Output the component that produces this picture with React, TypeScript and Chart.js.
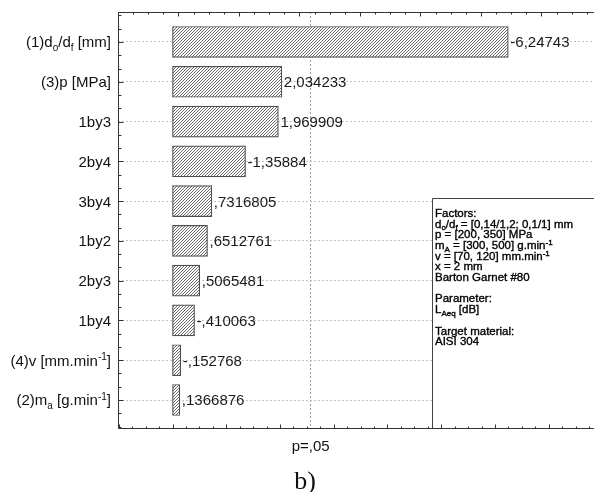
import React, { useEffect, useRef } from 'react';
import { Chart, registerables } from 'chart.js';

Chart.register(...registerables);

// ---- data ----
const categories = [
  '(1)d_{o}/d_{f} [mm]',
  '(3)p [MPa]',
  '1by3',
  '2by4',
  '3by4',
  '1by2',
  '2by3',
  '1by4',
  '(4)v [mm.min^{-1}]',
  '(2)m_{a} [g.min^{-1}]',
];
const effects = [
  -6.24743, 2.034233, 1.969909, -1.35884, 0.7316805, 0.6512761, 0.5065481,
  -0.410063, -0.152768, 0.1366876,
];
const criticalValue = 2.5706;
const criticalLabel = 'p=,05';
const legendLines = [
  'Factors:',
  'd_{o}/d_{f} = [0,14/1,2; 0,1/1] mm',
  'p = [200, 350] MPa',
  'm_{A} = [300, 500] g.min^{-1}',
  'v = [70, 120] mm.min^{-1}',
  'x = 2 mm',
  'Barton Garnet #80',
  '',
  'Parameter:',
  'L_{Aeq} [dB]',
  '',
  'Target material:',
  'AISI 304',
];
const captionText = 'b)';

const SANS = '"Liberation Sans", Arial, sans-serif';
const SERIF = '"Liberation Serif", "Times New Roman", serif';

function formatEffect(v: number): string {
  return String(v).replace('.', ',').replace(/^(-?)0,/, '$1,');
}

type Seg = { t: string; k: 'n' | 'sub' | 'sup' };
function parseRich(s: string): Seg[] {
  const segs: Seg[] = [];
  const re = /([_^])\{([^}]*)\}/g;
  let last = 0;
  let m: RegExpExecArray | null;
  while ((m = re.exec(s))) {
    if (m.index > last) segs.push({ t: s.slice(last, m.index), k: 'n' });
    segs.push({ t: m[2], k: m[1] === '_' ? 'sub' : 'sup' });
    last = re.lastIndex;
  }
  if (last < s.length) segs.push({ t: s.slice(last), k: 'n' });
  return segs;
}

function drawRich(
  ctx: CanvasRenderingContext2D,
  s: string,
  x: number,
  baseline: number,
  size: number,
  align: 'left' | 'right',
  color: string,
  thicken = 0,
  spacing = 0
) {
  const segs = parseRich(s);
  const fontFor = (k: string) =>
    `${k === 'n' ? size : Math.round(size * 0.68)}px ${SANS}`;
  const widthOf = (t: string) => ctx.measureText(t).width + spacing * t.length;
  let w = 0;
  for (const sg of segs) {
    ctx.font = fontFor(sg.k);
    w += widthOf(sg.t);
  }
  let cx = align === 'right' ? x - w : x;
  ctx.fillStyle = color;
  ctx.strokeStyle = color;
  ctx.lineWidth = thicken;
  ctx.textAlign = 'left';
  ctx.textBaseline = 'alphabetic';
  for (const sg of segs) {
    ctx.font = fontFor(sg.k);
    const dy = sg.k === 'sub' ? size * 0.24 : sg.k === 'sup' ? -size * 0.36 : 0;
    if (spacing) {
      for (const ch of sg.t) {
        ctx.fillText(ch, cx, baseline + dy);
        if (thicken) ctx.strokeText(ch, cx, baseline + dy);
        cx += ctx.measureText(ch).width + spacing;
      }
    } else {
      ctx.fillText(sg.t, cx, baseline + dy);
      if (thicken) ctx.strokeText(sg.t, cx, baseline + dy);
      cx += ctx.measureText(sg.t).width;
    }
  }
}

function makeHatch(): CanvasPattern | string {
  const c = document.createElement('canvas');
  c.width = 3;
  c.height = 3;
  const g = c.getContext('2d');
  if (!g) return '#bbb';
  g.fillStyle = '#ffffff';
  g.fillRect(0, 0, 3, 3);
  g.fillStyle = '#6a6a6a';
  g.fillRect(2, 0, 1, 1);
  g.fillRect(1, 1, 1, 1);
  g.fillRect(0, 2, 1, 1);
  return g.createPattern(c, 'repeat') || '#bbb';
}

const decorPlugin = {
  id: 'decor',
  afterDatasetsDraw(chart: any) {
    const { ctx } = chart;
    const meta = chart.getDatasetMeta(0);
    ctx.save();
    meta.data.forEach((el: any, i: number) => {
      const baseline = el.y + 15 * 0.36;
      drawRich(ctx, formatEffect(effects[i]), el.x + 2, baseline, 15, 'left', '#1a1a1a');
    });
    ctx.restore();
  },
  afterDraw(chart: any) {
    const { ctx, chartArea: a } = chart;
    const x = chart.scales.x;
    const y = chart.scales.y;
    ctx.save();

    // legend / info box
    const bx = 432.5;
    const by = 198.5;
    ctx.fillStyle = '#ffffff';
    ctx.fillRect(bx, by, a.right - bx + 2, a.bottom - by);
    ctx.strokeStyle = '#444';
    ctx.lineWidth = 1;
    ctx.beginPath();
    ctx.moveTo(a.right + 2, by);
    ctx.lineTo(bx, by);
    ctx.lineTo(bx, a.bottom);
    ctx.stroke();
    legendLines.forEach((line, i) => {
      if (!line) return;
      const center = 212.7 + i * 10.7;
      drawRich(ctx, line, 435, center + 11.5 * 0.36, 11.5, 'left', '#000', 0.35);
    });

    // axes frame
    const L = Math.round(a.left) + 0.5;
    const T = Math.round(a.top) + 0.5;
    const B = Math.round(a.bottom) - 0.5;
    ctx.strokeStyle = '#333';
    ctx.lineWidth = 1;
    ctx.beginPath();
    ctx.moveTo(a.right, T);
    ctx.lineTo(L, T);
    ctx.lineTo(L, B);
    ctx.lineTo(a.right, B);

    // bottom ticks: major every 1, minor every 0.25
    for (let k = -4; k <= 40; k++) {
      const v = k / 4;
      if (v < x.min - 1e-6 || v > x.max) continue;
      const px = Math.round(x.getPixelForValue(v)) + 0.5;
      const len = k % 4 === 0 ? 4 : 2;
      ctx.moveTo(px, B);
      ctx.lineTo(px, B - len);
    }
    // top ticks (secondary scale)
    const topStep = 1.1256;
    for (let k = 0; k <= 40; k++) {
      const v = x.min + (k * topStep) / 4;
      if (v > x.max) break;
      const px = Math.round(x.getPixelForValue(v)) + 0.5;
      const len = k % 4 === 0 ? 4 : 2;
      ctx.moveTo(px, T);
      ctx.lineTo(px, T + len);
    }
    // left ticks: major at categories, minor every 1/3
    for (let k = -2; k <= 29; k++) {
      const v = k / 3;
      if (v < y.min || v > y.max) continue;
      const py = Math.round(y.getPixelForValue(v)) + 0.5;
      const len = k % 3 === 0 ? 5 : 3;
      ctx.moveTo(L, py);
      ctx.lineTo(L + len, py);
    }
    ctx.stroke();

    // category labels
    categories.forEach((c, i) => {
      const py = y.getPixelForValue(i);
      drawRich(ctx, c, 111, py + 15 * 0.36, 15, 'right', '#111');
    });

    // caption
    ctx.fillStyle = '#111';
    ctx.font = `26px ${SERIF}`;
    ctx.textAlign = 'center';
    ctx.textBaseline = 'alphabetic';
    ctx.fillText(captionText, 305, 489);
    ctx.restore();
  },
};

export default function App() {
  const ref = useRef<HTMLCanvasElement | null>(null);
  useEffect(() => {
    if (!ref.current) return;
    const chart = new Chart(ref.current, {
      type: 'bar',
      data: {
        datasets: [
          {
            data: effects.map((v, i) => ({ x: Math.abs(v), y: i })),
            backgroundColor: makeHatch() as any,
            borderColor: '#4f4f4f',
            borderWidth: 1.2,
            borderSkipped: false,
            barThickness: 31,
          } as any,
        ],
      },
      options: {
        indexAxis: 'y',
        animation: false,
        responsive: false,
        maintainAspectRatio: false,
        layout: { padding: { top: 12, left: 0, right: 0, bottom: 0 } },
        plugins: {
          legend: { display: false },
          tooltip: { enabled: false },
        },
        scales: {
          x: {
            type: 'linear',
            position: 'bottom',
            min: -1.014,
            max: 7.842,
            offset: false,
            afterBuildTicks: (s: any) => {
              s.ticks = [{ value: criticalValue }];
            },
            afterFit: (s: any) => {
              s.height = 63;
            },
            ticks: {
              callback: () => criticalLabel,
              font: { family: SANS, size: 15 },
              color: '#111',
              padding: 9,
              maxRotation: 0,
              autoSkip: false,
            },
            grid: {
              color: '#999',
              lineWidth: 1,
              drawTicks: false,
              offset: false,
            },
            border: { display: false, dash: [2, 2] },
          },
          y: {
            type: 'linear',
            reverse: true,
            min: -0.754,
            max: 9.729,
            offset: false,
            afterBuildTicks: (s: any) => {
              s.ticks = categories.map((_, i) => ({ value: i }));
            },
            afterFit: (s: any) => {
              s.width = 118;
            },
            ticks: { display: false },
            grid: {
              color: '#c4c4c4',
              lineWidth: 1,
              drawTicks: false,
              offset: false,
            },
            border: { display: false, dash: [2, 2] },
          },
        },
      } as any,
      plugins: [decorPlugin as any],
    });
    return () => chart.destroy();
  }, []);
  return (
    <div style={{ position: 'absolute', left: 0, top: 0, width: 594, height: 492, background: '#fff' }}>
      <canvas ref={ref} width={594} height={492} style={{ display: 'block', width: 594, height: 492 }} />
    </div>
  );
}
